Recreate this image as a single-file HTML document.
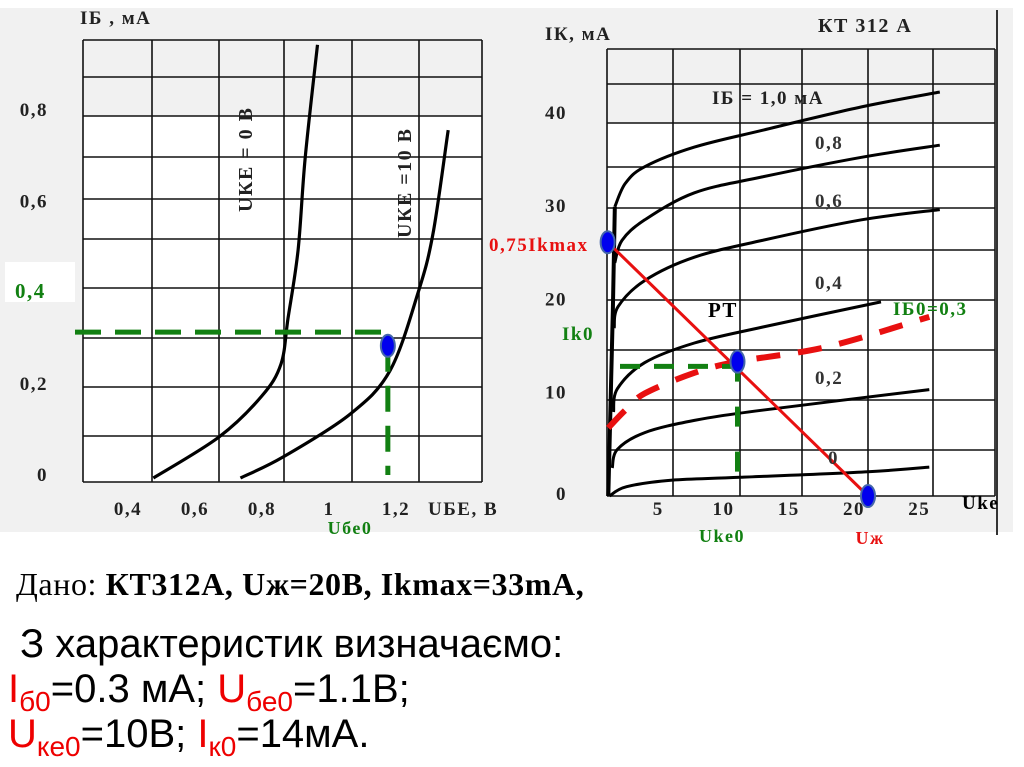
<!DOCTYPE html>
<html><head><meta charset="utf-8"><style>
html,body{margin:0;padding:0;background:#fff;width:1024px;height:767px;overflow:hidden}
svg{display:block}
.t{font-family:"Liberation Serif","DejaVu Serif",serif;font-weight:bold;letter-spacing:1.5px}
.s{font-family:"Liberation Sans","DejaVu Sans",sans-serif}
</style></head><body>
<svg id="svg" width="1024" height="767" viewBox="0 0 1024 767">
<rect x="0" y="8" width="1013" height="524" fill="#f1f1f1"/>
<rect x="83" y="116" width="399" height="366" fill="#fff"/>
<rect x="607" y="123" width="388" height="373" fill="#fff"/>
<g id="grids" stroke="#111" stroke-width="1.6" fill="none"></g>
<g id="curves" fill="none"></g>
<g id="labels"></g>
<g>
<text x="16" y="595" font-size="32" letter-spacing="0.6" font-family="Liberation Serif, serif">Дано:  <tspan font-weight="bold">КТ312А, Uж=20В, Ikmax=33mA,</tspan></text>
<text class="s" x="20" y="657" font-size="40">З характеристик  визначаємо:</text>
<text class="s" x="8" y="702" font-size="40"><tspan fill="#e00">I</tspan><tspan fill="#e00" font-size="28" dy="9">б0</tspan><tspan dy="-9">=0.3 мА; </tspan><tspan fill="#e00">U</tspan><tspan fill="#e00" font-size="28" dy="9">бе0</tspan><tspan dy="-9">=1.1В;</tspan></text>
<text class="s" x="8" y="747" font-size="40"><tspan fill="#e00">U</tspan><tspan fill="#e00" font-size="28" dy="9">ке0</tspan><tspan dy="-9">=10В; </tspan><tspan fill="#e00">I</tspan><tspan fill="#e00" font-size="28" dy="9">к0</tspan><tspan dy="-9">=14мА.</tspan></text>
</g>
</svg>
<script>
// ---- Input characteristic data (UBE in V, IB in mA)
const inCurve0X = [0.41,0.606,0.734,0.791,0.812,0.842,0.863,0.90];
const inCurve0Y = [0,0.09,0.18,0.25,0.35,0.50,0.70,0.95];
const inCurve10X = [0.67,0.797,0.997,1.116,1.2,1.245,1.29];
const inCurve10Y = [0,0.046,0.14,0.235,0.406,0.537,0.763];
const inOpX = [1.11];
const inOpY = [0.29];
const inXTicks = [0.4,0.6,0.8,1.0,1.2];
const inXTickLabels = ["0,4","0,6","0,8","1","1,2"];
const inYTicks = [0,0.2,0.6,0.8];
const inYTickLabels = ["0","0,2","0,6","0,8"];
// ---- Output characteristic data (UKE in V, IK in mA)
const outIb = ["1,0","0,8","0,6","0,4","0,2","0"];
const outX10 = [0.6,1.4,2.9,6.7,11.9,19.5,25.5];
const outY10 = [31,33.5,35.3,37.4,39.2,41.7,43.3];
const outX08 = [0.6,1.15,2.9,6.7,11.9,19.5,25.5];
const outY08 = [25,27.4,29.6,32.5,34.2,36.3,37.6];
const outX06 = [0.55,0.85,2.9,6.7,11.9,19.5,25.5];
const outY06 = [18,20.3,23.1,25.6,27.4,29.6,30.7];
const outX04 = [0.5,0.8,2.9,6.7,11.9,21];
const outY04 = [9,11.5,14.3,16.4,18.1,20.8];
const outX02 = [0.4,0.8,2.9,6.7,11.9,24.7];
const outY02 = [3,5,6.8,8.1,9.2,11.4];
const outX00 = [0.2,1.5,5,10.2,20,24.7];
const outY00 = [0,1,1.7,2.0,2.6,3.1];
const ib03X = [0.1,1.4,2.9,6.7,10,16.9,24.7];
const ib03Y = [7.3,9.2,11,13.2,14.4,16,19.2];
const loadX = [0.05,20];
const loadY = [27.2,0];
const opOutX = [10];
const opOutY = [14.4];
const outXTicks = [5,10,15,20,25];
const outXTickLabels = ["5","10","15","20","25"];
const outYTicks = [0,10,20,30,40];
const outYTickLabels = ["0","10","20","30","40"];

const NS="http://www.w3.org/2000/svg";
function mk(tag,attrs,parent){const e=document.createElementNS(NS,tag);for(const k in attrs)e.setAttribute(k,attrs[k]);parent.appendChild(e);return e;}
const inSX=v=>16+335*v, inSY=v=>478-456*v;
const outSX=v=>607+13.05*v, outSY=v=>496-9.33*v;
const grids=document.getElementById('grids'), curves=document.getElementById('curves'), labels=document.getElementById('labels');

const gL=[83,152,219,284,352,419,482], gLy=[40,77,116,157,199,239,288,338,387,436,482];
gL.forEach(x=>{const l=mk('line',{x1:x,y1:40,x2:x,y2:482},grids);});
gLy.forEach(y=>{const l=mk('line',{x1:83,y1:y,x2:482,y2:y},grids);});
const gR=[607,673,740,802,868,933,995], gRy=[49,84,123,167,208,250,300,350,400,450,496];
gR.forEach(x=>{const l=mk('line',{x1:x,y1:49,x2:x,y2:496},grids);});
gRy.forEach(y=>{const l=mk('line',{x1:607,y1:y,x2:995,y2:y},grids);});
mk('line',{x1:997,y1:10,x2:997,y2:535,stroke:'#333','stroke-width':2},grids);

function smooth(xs,ys,sx,sy){const p=xs.map((x,i)=>[sx(x),sy(ys[i])]);let d='M'+p[0][0]+','+p[0][1];
 for(let i=0;i<p.length-1;i++){const p0=p[i-1]||p[i],p1=p[i],p2=p[i+1],p3=p[i+2]||p2;
 const c1=[p1[0]+(p2[0]-p0[0])/6,p1[1]+(p2[1]-p0[1])/6],c2=[p2[0]-(p3[0]-p1[0])/6,p2[1]-(p3[1]-p1[1])/6];
 d+=' C'+c1[0].toFixed(1)+','+c1[1].toFixed(1)+' '+c2[0].toFixed(1)+','+c2[1].toFixed(1)+' '+p2[0].toFixed(1)+','+p2[1].toFixed(1);}return d;}

let e;
e=mk('path',{d:smooth(inCurve0X,inCurve0Y,inSX,inSY),stroke:'#000','stroke-width':3.2},curves);


e=mk('path',{d:smooth(inCurve10X,inCurve10Y,inSX,inSY),stroke:'#000','stroke-width':3.2},curves);


e=mk('line',{x1:75,y1:inSY(inOpY[0]+0.03),x2:inSX(inOpX[0]),y2:inSY(inOpY[0]+0.03),stroke:'#128012','stroke-width':5,'stroke-dasharray':'26,14'},curves);


e=mk('line',{x1:inSX(inOpX[0]),y1:inSY(inOpY[0]),x2:inSX(inOpX[0]),y2:475,stroke:'#128012','stroke-width':5,'stroke-dasharray':'26,14'},curves);


e=mk('ellipse',{cx:inSX(inOpX[0]),cy:inSY(inOpY[0]),rx:7,ry:11,fill:'#0000ee',stroke:'#4466aa','stroke-width':2},curves);



e=mk('path',{d:'M'+outSX(0.1)+','+outSY(0)+' L'+outSX(0.45)+','+outSY(20)+' L'+outSX(0.6)+','+outSY(31),stroke:'#000','stroke-width':4},curves);


const oxs=[outX10,outX08,outX06,outX04,outX02,outX00], oys=[outY10,outY08,outY06,outY04,outY02,outY00];
oxs.forEach((xs,i)=>{const p=mk('path',{d:smooth(xs,oys[i],outSX,outSY),stroke:'#000','stroke-width':3},curves);

});
e=mk('path',{d:smooth(ib03X,ib03Y,outSX,outSY),stroke:'#e81010','stroke-width':6,'stroke-dasharray':'24,18'},curves);


e=mk('line',{x1:620,y1:outSY(opOutY[0]-0.5),x2:outSX(opOutX[0]),y2:outSY(opOutY[0]-0.5),stroke:'#128012','stroke-width':5,'stroke-dasharray':'20,14'},curves);


e=mk('line',{x1:outSX(opOutX[0]),y1:outSY(opOutY[0]),x2:outSX(opOutX[0]),y2:480,stroke:'#128012','stroke-width':5,'stroke-dasharray':'20,25'},curves);


e=mk('line',{x1:outSX(loadX[0]),y1:outSY(loadY[0]),x2:outSX(loadX[1]),y2:outSY(loadY[1]),stroke:'#e81010','stroke-width':3},curves);


[[loadX[0],loadY[0],'ikmax-point'],[opOutX[0],opOutY[0],'operating-point'],[loadX[1],loadY[1],'uzh-point']].forEach(a=>{
const c=mk('ellipse',{cx:outSX(a[0]),cy:outSY(a[1]),rx:7,ry:11,fill:'#0000ee',stroke:'#4466aa','stroke-width':2},curves);

});

function txt(x,y,s,size,fill,name,anchor,cls){const t=mk('text',{x:x,y:y,'font-size':size,fill:fill||'#000','text-anchor':anchor||'start',class:cls||'t'},labels);t.textContent=s;

return t;}
inXTicks.forEach((v,i)=>txt(inSX(v)-22,515,inXTickLabels[i],19,'#222','input-x-tick','middle'));
inYTicks.forEach((v,i)=>txt(48,inSY(v)+3,inYTickLabels[i],19,'#222','input-y-tick','end'));
outXTicks.forEach((v,i)=>txt(outSX(v)-14,515,outXTickLabels[i],19,'#222','output-x-tick','middle'));
outYTicks.forEach((v,i)=>txt(567,outSY(v)+4-(v>0?8:0),outYTickLabels[i],19,'#222','output-y-tick','end'));
mk('rect',{x:5,y:262,width:70,height:40,fill:'#fff'},labels);
txt(15,298,'0,4',21,'#128012','input-y-tick-highlight');
txt(80,24,'IБ , мА',19,'#222','input-y-title');
txt(428,515,'UБЕ, В',19,'#222','input-x-title');
txt(350,534,'Uбе0',18,'#128012','ube0-label','middle');
let r=txt(0,0,'UКЕ = 0 В',20,'#222','label-uke-0v');r.setAttribute('transform','translate(252,212) rotate(-90)');
r=txt(0,0,'UКЕ =10 В',20,'#222','label-uke-10v');r.setAttribute('transform','translate(411,238) rotate(-90)');
txt(545,40,'IК, мА',19,'#222','output-y-title');
txt(818,32,'КТ 312 А',20,'#222','transistor-model');
txt(712,104,'IБ = 1,0 мА',19,'#222','ib-1-0-label');
txt(815,149,'0,8',19,'#333','ib-0-8-label');
txt(815,207,'0,6',19,'#333','ib-0-6-label');
txt(815,289,'0,4',19,'#333','ib-0-4-label');
txt(815,384,'0,2',19,'#333','ib-0-2-label');
txt(828,464,'0',19,'#333','ib-0-label');
txt(489,251,'0,75Ikmax',19,'#e81010','ikmax-label');
txt(562,340,'Ik0',19,'#128012','ik0-label');
txt(708,317,'PT',21,'#000','pt-label');
txt(893,315,'IБ0=0,3',19,'#128012','ib0-label');
txt(962,509,'Uke',19,'#000','output-x-title');
txt(722,542,'Uke0',18,'#128012','uke0-label','middle');
txt(870,544,'Uж',18,'#e81010','uzh-label','middle');
</script>
</body></html>
